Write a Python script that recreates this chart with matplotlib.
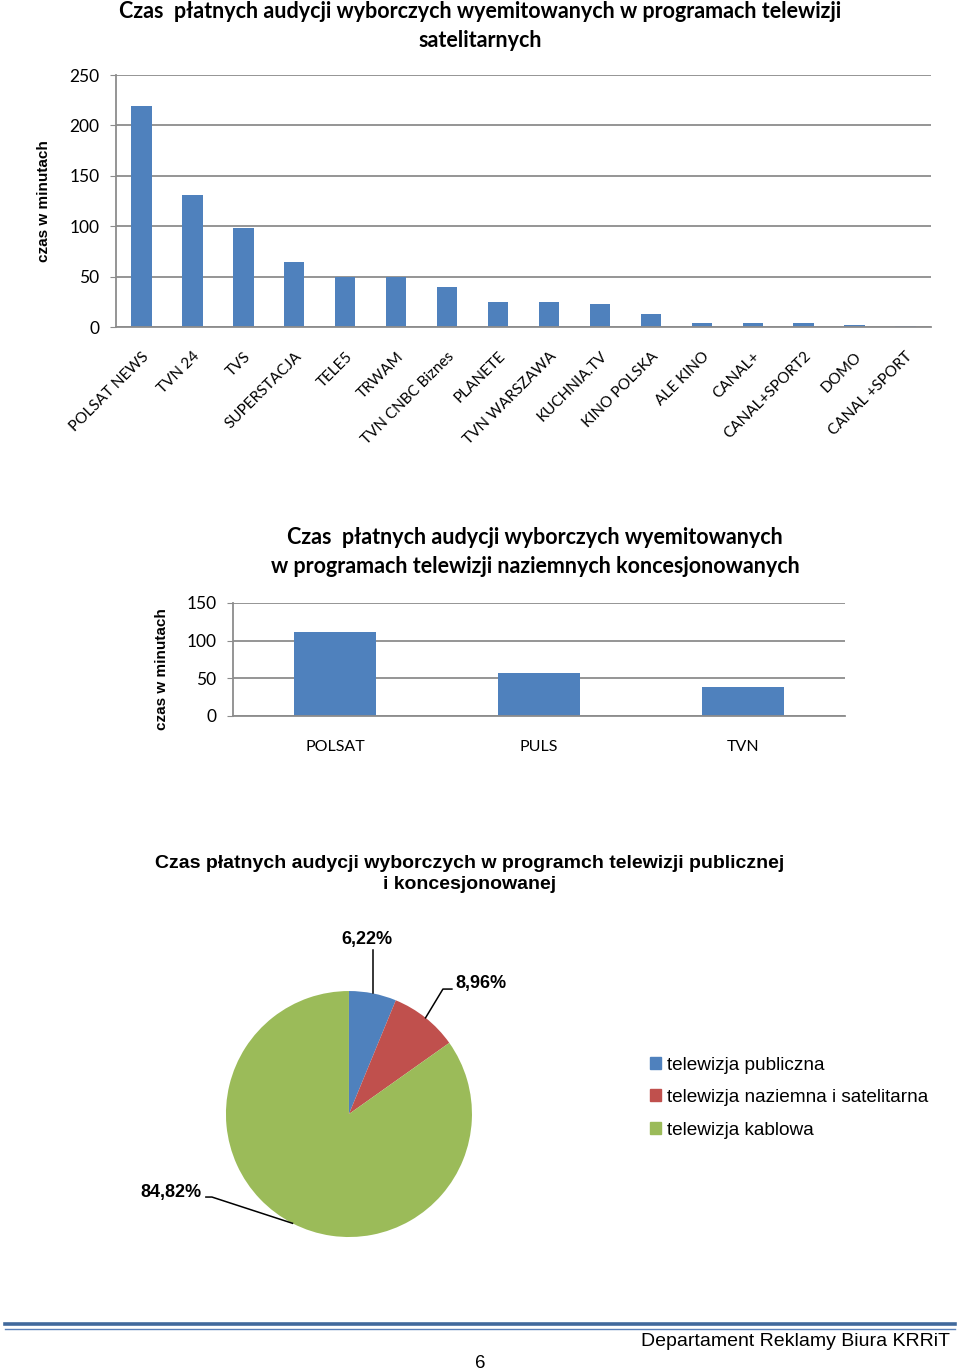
import numpy as np
import matplotlib.pyplot as plt
from matplotlib.lines import Line2D
from matplotlib.patches import Patch

sat_channels = ['POLSAT NEWS', 'TVN 24', 'TVS', 'SUPERSTACJA', 'TELE5', 'TRWAM',
                'TVN CNBC Biznes', 'PLANETE', 'TVN WARSZAWA', 'KUCHNIA.TV',
                'KINO POLSKA', 'ALE KINO', 'CANAL+', 'CANAL+SPORT2', 'DOMO',
                'CANAL +SPORT']
sat_minutes = [219, 131, 98, 64, 50, 50, 40, 25, 25, 23, 13, 4, 4, 4, 2, 1]

ter_channels = ['POLSAT', 'PULS', 'TVN']
ter_minutes = [112, 57, 39]

pie_labels = ['telewizja publiczna', 'telewizja naziemna i satelitarna',
              'telewizja kablowa']
pie_shares = [6.22, 8.96, 84.82]

BLUE = '#4F81BD'
GRID = '#8C8C8C'
CAL = 'Lato'
ARIAL = 'Liberation Sans'

fig = plt.figure(figsize=(9.6, 13.72), dpi=100)


def px(x0, y0, x1, y1):
    """pixel box (top-left origin) -> figure fraction rect"""
    W, H = 960, 1372
    return [x0 / W, 1 - y1 / H, (x1 - x0) / W, (y1 - y0) / H]


def style_bar_axes(ax, ymax, step):
    ax.set_ylim(0, ymax)
    ax.set_yticks(np.arange(0, ymax + 1, step))
    ax.yaxis.grid(True, color=GRID, lw=1.3)
    ax.set_axisbelow(True)
    for s in ['top', 'right']:
        ax.spines[s].set_visible(False)
    for s in ['left', 'bottom']:
        ax.spines[s].set_color(GRID)
        ax.spines[s].set_linewidth(1.3)
    ax.tick_params(axis='y', length=4, color=GRID, pad=8)
    ax.tick_params(axis='x', length=0)
    for t in ax.get_yticklabels():
        t.set_fontfamily(CAL)
        t.set_fontsize(12.5)


# satellite
ax1 = fig.add_axes(px(116, 75, 931, 327))
x1 = np.arange(len(sat_channels))
ax1.bar(x1, sat_minutes, width=0.4, color=BLUE)
ax1.set_xlim(-0.5, len(sat_channels) - 0.5)
style_bar_axes(ax1, 250, 50)
ax1.set_xticks(x1)
ax1.set_xticklabels(sat_channels, rotation=45, ha='right',
                    rotation_mode='anchor', fontfamily=CAL, fontsize=11)
ax1.tick_params(axis='x', pad=16)
ax1.set_ylabel('czas w minutach', fontfamily=ARIAL, fontweight='bold',
               fontsize=11)
ax1.yaxis.set_label_coords(-0.08, 0.5)
fig.text(0.5, 0.9995, 'Czas  płatnych audycji wyborczych wyemitowanych w programach telewizji\nsatelitarnych',
         ha='center', va='top', fontfamily=CAL, fontweight='bold',
         fontsize=15.5, linespacing=1.5)

# terrestrial
ax2 = fig.add_axes(px(233, 603, 845, 716))
x2 = np.arange(len(ter_channels))
ax2.bar(x2, ter_minutes, width=0.4, color=BLUE)
ax2.set_xlim(-0.5, len(ter_channels) - 0.5)
style_bar_axes(ax2, 150, 50)
ax2.set_xticks(x2)
ax2.set_xticklabels(ter_channels, fontfamily=CAL, fontsize=11.5)
ax2.tick_params(axis='x', pad=17)
ax2.set_ylabel('czas w minutach', fontfamily=ARIAL, fontweight='bold',
               fontsize=11)
ax2.yaxis.set_label_coords(-0.104, 0.416)
fig.text(535 / 960, 1 - 527 / 1372,
         'Czas  płatnych audycji wyborczych wyemitowanych\nw programach telewizji naziemnych koncesjonowanych',
         ha='center', va='top', fontfamily=CAL, fontweight='bold',
         fontsize=15.5, linespacing=1.45)

# pie
ax3 = fig.add_axes(px(130, 901, 570, 1261))
colors = [BLUE, '#C0504D', '#9BBB59']
wedges, _ = ax3.pie(pie_shares, colors=colors, startangle=90,
                    counterclock=False, radius=1)
ax3.set_aspect('auto')
ax3.set_xlim(-1.780, 1.797)
ax3.set_ylim(-1.195, 1.732)

# leader lines from wedge middles
mids = []
acc = 0
for v in pie_shares:
    ang = np.deg2rad(90 - (acc + v / 2) * 3.6)
    mids.append((np.cos(ang), np.sin(ang)))
    acc += v
txt = [('%.2f%%' % v).replace('.', ',') for v in pie_shares]
lk = dict(color='black', lw=1.1)
lf = dict(fontfamily=ARIAL, fontweight='bold', fontsize=13)
m = mids[0]
ax3.plot([m[0], m[0]], [m[1], 1.33], **lk)
ax3.text(m[0] - 0.05, 1.42, txt[0], ha='center', va='center', **lf)
m = mids[1]
ax3.plot([m[0], 0.764, 0.837], [m[1], 1.016, 1.016], **lk)
ax3.text(0.862, 1.06, txt[1], ha='left', va='center', **lf)
m = mids[2]
ax3.plot([m[0], -1.114, -1.163], [m[1], -0.675, -0.675], **lk)
ax3.text(-1.2, -0.64, txt[2], ha='right', va='center', **lf)

handles = [Patch(color=c) for c in colors]
fig.legend(handles, pie_labels, loc='upper left',
           bbox_to_anchor=(640 / 960, 1 - 1047 / 1372), frameon=False,
           prop=dict(family=ARIAL, size=13.7), handlelength=0.6,
           handleheight=0.6, handletextpad=0.3, labelspacing=0.82,
           borderpad=0)

fig.text(470 / 960, 1 - 855 / 1372,
         'Czas płatnych audycji wyborczych w programch telewizji publicznej\ni koncesjonowanej',
         ha='center', va='top', fontfamily=ARIAL, fontweight='bold',
         fontsize=14, linespacing=1.3)

# footer
fig.add_artist(Line2D([5 / 960, 955 / 960], [1 - 1324 / 1372] * 2,
                      color='#41699C', lw=2.6))
fig.add_artist(Line2D([5 / 960, 955 / 960], [1 - 1328.5 / 1372] * 2,
                      color='#5A80B8', lw=1.0))
fig.text(950 / 960, 1 - 1341 / 1372, 'Departament Reklamy Biura KRRiT',
         ha='right', va='center', fontfamily=ARIAL, fontsize=14)
fig.text(480 / 960, 1 - 1363 / 1372, '6', ha='center', va='center',
         fontfamily=ARIAL, fontsize=13.5)

fig.savefig('out.png', dpi=100)
